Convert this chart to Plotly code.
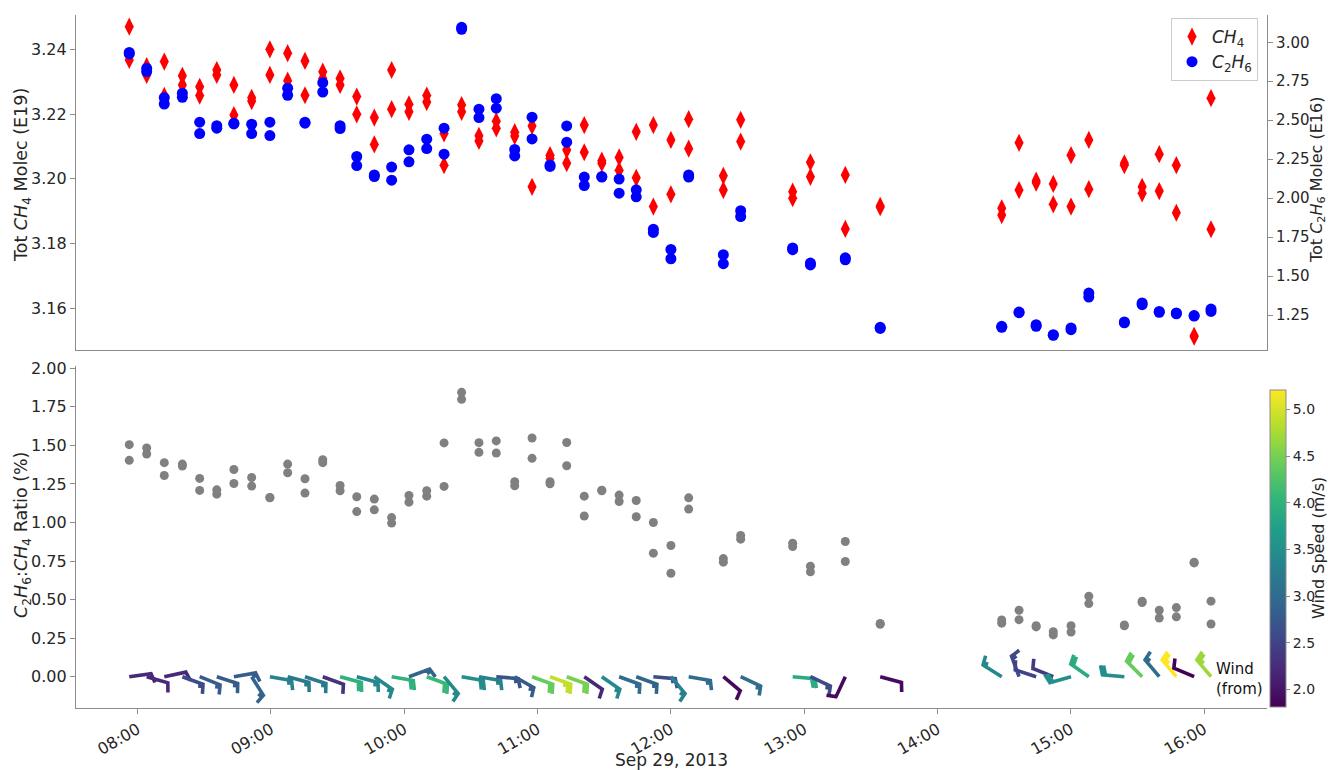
import math
import pandas as pd
import plotly.graph_objects as go
from plotly.colors import sample_colorscale

DATE = "2013-09-29"

# measurement group times (two retrievals per group)
times = ["07:56:12", "08:04:03", "08:11:58", "08:20:06", "08:27:54", "08:35:36", "08:43:18",
         "08:51:18", "08:59:30", "09:07:30", "09:15:18", "09:23:18", "09:31:06", "09:38:36",
         "09:46:30", "09:54:18", "10:02:06", "10:10:06", "10:17:54", "10:25:48", "10:33:36",
         "10:41:24", "10:49:42", "10:57:30", "11:05:36", "11:13:06", "11:21:00", "11:28:54",
         "11:36:42", "11:44:24", "11:52:06", "12:00:00", "12:08:00", "12:23:36", "12:31:24",
         "12:54:48", "13:02:48", "13:18:30", "13:34:12", "14:28:54", "14:36:42", "14:44:24",
         "14:52:06", "15:00:06", "15:08:06", "15:24:06", "15:32:06", "15:39:48", "15:47:30",
         "15:55:30", "16:03:06"]

ch4_a = [3.2470, 3.2348, 3.2362, 3.2318, 3.2284, 3.2336, 3.2290, 3.2250, 3.2400, 3.2388,
         3.2364, 3.2331, 3.2310, 3.2254, 3.2189, 3.2336, 3.2230, 3.2257, 3.2140, 3.2228,
         3.2133, 3.2178, 3.2144, 3.2163, 3.2073, 3.2089, 3.2166, 3.2056, 3.2066, 3.2145,
         3.2166, 3.2120, 3.2184, 3.2009, 3.2182, 3.1960, 3.2051, 3.2012, 3.1916, 3.1909,
         3.2111, 3.1994, 3.1984, 3.2073, 3.2120, 3.2048, 3.1975, 3.2076, 3.2042, 3.1515,
         3.2249]
ch4_b = [3.2367, 3.2321, 3.2256, 3.2290, 3.2257, 3.2321, 3.2197, 3.2240, 3.2321, 3.2303,
         3.2258, 3.2310, 3.2290, 3.2199, 3.2106, 3.2215, 3.2207, 3.2237, 3.2042, 3.2207,
         3.2117, 3.2156, 3.2132, 3.1975, 3.2063, 3.2048, 3.2082, 3.2048, 3.2026, 3.2003,
         3.1914, 3.1952, 3.2093, 3.1965, 3.2115, 3.1940, 3.2006, 3.1845, 3.1912, 3.1888,
         3.1965, 3.1988, 3.1921, 3.1914, 3.1968, 3.2042, 3.1955, 3.1962, 3.1895, 3.1512,
         3.1844]

c2h6_a = [2.935, 2.833, 2.645, 2.673, 2.487, 2.465, 2.481, 2.474, 2.487, 2.705,
          2.487, 2.741, 2.465, 2.267, 2.149, 2.199, 2.310, 2.378, 2.449, 3.096,
          2.571, 2.638, 2.312, 2.519, 2.212, 2.463, 2.135, 2.138, 2.122, 2.053,
          1.801, 1.671, 2.149, 1.637, 1.919, 1.680, 1.583, 1.617, 1.171, 1.177,
          1.269, 1.188, 1.124, 1.167, 1.391, 1.205, 1.327, 1.273, 1.263, 1.246,
          1.288]
c2h6_b = [2.925, 2.812, 2.604, 2.647, 2.414, 2.449, 2.476, 2.414, 2.401, 2.660,
          2.481, 2.681, 2.446, 2.209, 2.138, 2.115, 2.233, 2.318, 2.282, 3.083,
          2.517, 2.577, 2.271, 2.380, 2.203, 2.359, 2.081, 2.135, 2.032, 2.008,
          1.780, 1.611, 2.135, 1.579, 1.882, 1.669, 1.571, 1.604, 1.164, 1.171,
          1.265, 1.177, 1.120, 1.156, 1.365, 1.200, 1.316, 1.267, 1.258, 1.243,
          1.273]

ratio_a = [1.505, 1.483, 1.388, 1.379, 1.286, 1.212, 1.344, 1.292, 1.162, 1.379,
           1.284, 1.407, 1.240, 1.167, 1.152, 1.032, 1.175, 1.206, 1.516, 1.844,
           1.518, 1.529, 1.264, 1.548, 1.264, 1.519, 1.171, 1.210, 1.178, 1.143,
           1.000, 0.851, 1.160, 0.766, 0.916, 0.866, 0.717, 0.877, 0.345, 0.368,
           0.431, 0.331, 0.292, 0.331, 0.522, 0.335, 0.490, 0.431, 0.448, 0.742,
           0.490]
ratio_b = [1.403, 1.444, 1.305, 1.366, 1.208, 1.184, 1.253, 1.236, 1.160, 1.323,
           1.191, 1.388, 1.206, 1.071, 1.082, 0.996, 1.132, 1.171, 1.234, 1.799,
           1.455, 1.451, 1.238, 1.416, 1.251, 1.368, 1.042, 1.206, 1.136, 1.037,
           0.801, 0.671, 1.087, 0.743, 0.892, 0.844, 0.680, 0.747, 0.340, 0.347,
           0.370, 0.323, 0.271, 0.290, 0.474, 0.330, 0.481, 0.381, 0.388, 0.738,
           0.342]

# wind direction (deg, from) and speed (m/s) per group
wind_dir = [82, 106, 78, 110, 112, 108, 80, 148, 100, 105,
            108, 110, 105, 105, 125, 100, 70, 110, 140, 100,
            100, 95, 120, 110, 110, 110, 125, 125, 110, 110,
            95, 140, 100, 130, 115, 95, 115, 205, 105, 302,
            340, 288, 292, 254, 305, 275, 315, 320, 320, 293,
            320]
wind_speed = [2.2, 2.2, 2.2, 2.6, 2.8, 2.8, 2.8, 2.9, 3.3, 3.2,
              3.2, 2.3, 4.0, 3.4, 3.4, 4.0, 2.9, 4.1, 3.4, 3.5,
              3.3, 2.7, 2.8, 4.4, 4.9, 4.5, 2.2, 3.4, 3.0, 2.9,
              2.6, 3.3, 3.0, 1.9, 3.0, 3.9, 2.6, 1.9, 1.9, 3.4,
              2.6, 2.5, 2.4, 3.5, 3.9, 3.5, 4.4, 3.0, 5.21, 1.81,
              4.7]

x_ticks = ["08:00", "09:00", "10:00", "11:00", "12:00", "13:00", "14:00", "15:00", "16:00"]

t = pd.to_datetime([f"{DATE} {s}" for s in times])
X0 = pd.Timestamp(f"{DATE} 07:32:14")
X1 = pd.Timestamp(f"{DATE} 16:28:18")
Y3_RANGE = [-0.203, 2.015]

# plot geometry (pixels)
W, H = 1328, 770
ML, MR, MT, MB = 76, 61, 15, 62
PW = W - ML - MR
PH = H - MT - MB
top_dom = [(H - MB - 350) / PH, 1.0]
bot_dom = [0.0, (H - MB - 366) / PH]
BOT_H = (bot_dom[1] - bot_dom[0]) * PH

px_per_min = PW / ((X1 - X0).total_seconds() / 60.0)
px_per_unit = BOT_H / (Y3_RANGE[1] - Y3_RANGE[0])

FONT = "DejaVu Sans"
TXT = "#262626"
SPINE = "#8c8c8c"

fig = go.Figure()

fig.add_trace(go.Scatter(
    x=list(t) + list(t), y=ch4_a + ch4_b, mode="markers", name="<i>CH</i><sub>4</sub>",
    marker=dict(symbol="diamond-tall", size=13, color="#ff0000", line=dict(width=0)),
    xaxis="x", yaxis="y"))
fig.add_trace(go.Scatter(
    x=list(t) + list(t), y=c2h6_a + c2h6_b, mode="markers",
    name="<i>C</i><sub>2</sub><i>H</i><sub>6</sub>",
    marker=dict(symbol="circle", size=11, color="#0000ff", line=dict(width=0)),
    xaxis="x", yaxis="y2"))
fig.add_trace(go.Scatter(
    x=list(t) + list(t), y=ratio_a + ratio_b, mode="markers", showlegend=False,
    marker=dict(symbol="circle", size=9, color="#808080", line=dict(width=0)),
    xaxis="x2", yaxis="y3"))

# wind barbs (matplotlib-style geometry, computed in pixel space)
L = 22.0
HGT = 0.42 * L
WID = 0.25 * L
SPC = 0.14 * L
smin, smax = min(wind_speed), max(wind_speed)


def barb_path(speed, theta):
    mag = round(speed)
    nfull = int(mag // 2)
    half = (mag % 2) >= 1
    th = math.radians(theta)
    d = (math.sin(th), math.cos(th))
    p = (d[1], -d[0])
    pts = [(0.0, 0.0), (L * d[0], L * d[1])]
    off = L
    for _ in range(nfull):
        pts.append((off * d[0], off * d[1]))
        e = off + WID / 2
        pts.append((e * d[0] + HGT * p[0], e * d[1] + HGT * p[1]))
        pts.append((off * d[0], off * d[1]))
        off -= SPC
    if half:
        if nfull == 0:
            off -= 1.5 * SPC
        pts.append((off * d[0], off * d[1]))
        e = off + WID / 4
        pts.append((e * d[0] + HGT / 2 * p[0], e * d[1] + HGT / 2 * p[1]))
        pts.append((off * d[0], off * d[1]))
    return pts


for ti, sp, th in zip(t, wind_speed, wind_dir):
    pts = barb_path(sp, th)
    xs = [ti + pd.Timedelta(minutes=px / px_per_min) for px, py in pts]
    ys = [py / px_per_unit for px, py in pts]
    col = sample_colorscale("Viridis", [(sp - smin) / (smax - smin)])[0]
    fig.add_trace(go.Scatter(x=xs, y=ys, mode="lines", showlegend=False, hoverinfo="skip",
                             line=dict(color=col, width=3.6), xaxis="x2", yaxis="y3"))

fig.add_trace(go.Scatter(
    x=list(t), y=[0] * len(t), mode="markers", showlegend=False, hoverinfo="skip",
    marker=dict(size=1, opacity=0, color=wind_speed, colorscale="Viridis", cmin=smin, cmax=smax,
                showscale=True,
                colorbar=dict(x=(1270 - ML) / PW, xanchor="left", xpad=0, ypad=0, thickness=16,
                              len=(707 - 390) / PH, lenmode="fraction", y=(H - MB - 707) / PH,
                              yanchor="bottom", outlinecolor=SPINE, outlinewidth=1,
                              ticks="outside", ticklen=4, tickcolor=SPINE,
                              tickvals=[2.0, 2.5, 3.0, 3.5, 4.0, 4.5, 5.0], tickformat=".1f",
                              tickfont=dict(size=14, color=TXT, family=FONT))),
    xaxis="x2", yaxis="y3"))

tick_vals = [pd.Timestamp(f"{DATE} {s}") for s in x_ticks]

axis_common = dict(showgrid=False, zeroline=False, showline=True, linecolor=SPINE, linewidth=1.2,
                   ticks="outside", ticklen=5, tickcolor=SPINE, automargin=False,
                   tickfont=dict(size=16, color=TXT, family=FONT))


def px_x(px):
    return (px - ML) / PW


def px_y(py):
    return (H - MB - py) / PH


def vtitle(text, x, y, size):
    return dict(text=text, xref="paper", yref="paper", x=px_x(x), y=px_y(y),
                xanchor="center", yanchor="middle", textangle=-90, showarrow=False,
                font=dict(size=size, color=TXT, family=FONT))


right_ticks = dict(axis_common)
right_ticks["tickfont"] = dict(size=15, color=TXT, family=FONT)

fig.update_layout(
    width=W, height=H, margin=dict(l=ML, r=MR, t=MT, b=MB, autoexpand=False),
    paper_bgcolor="white", plot_bgcolor="white",
    font=dict(family=FONT, color=TXT, size=16),
    xaxis=dict(domain=[0, 1], anchor="y", range=[X0, X1], showgrid=False, zeroline=False,
               showline=True, linecolor=SPINE, linewidth=1.2, showticklabels=False, ticks=""),
    yaxis=dict(domain=top_dom, anchor="x", range=[3.1471, 3.2506], side="left",
               tickvals=[3.16, 3.18, 3.20, 3.22, 3.24], tickformat=".2f", **axis_common),
    yaxis2=dict(overlaying="y", anchor="x", side="right", range=[1.0254, 3.175],
                tickvals=[1.25, 1.5, 1.75, 2.0, 2.25, 2.5, 2.75, 3.0], tickformat=".2f",
                **right_ticks),
    xaxis2=dict(domain=[0, 1], anchor="y3", range=[X0, X1], tickvals=tick_vals,
                ticktext=x_ticks, tickangle=-30,
                title=dict(text="Sep 29, 2013", standoff=3, font=dict(size=17, color=TXT)),
                **axis_common),
    yaxis3=dict(domain=bot_dom, anchor="x2", range=Y3_RANGE,
                tickvals=[0, 0.25, 0.5, 0.75, 1.0, 1.25, 1.5, 1.75, 2.0], tickformat=".2f",
                **axis_common),
    legend=dict(x=px_x(1258), xanchor="right", y=px_y(18), yanchor="top",
                bgcolor="rgba(255,255,255,0.85)", bordercolor="#cccccc", borderwidth=1,
                font=dict(size=17, color=TXT, family=FONT)),
    annotations=[
        vtitle("Tot <i>CH</i><sub>4</sub> Molec (E19)", 22, 175, 17.5),
        vtitle("Tot <i>C</i><sub>2</sub><i>H</i><sub>6</sub> Molec (E16)", 1317, 180, 16),
        vtitle("<i>C</i><sub>2</sub><i>H</i><sub>6</sub>:<i>CH</i><sub>4</sub> Ratio (%)", 22, 535, 17.5),
        vtitle("Wind Speed (m/s)", 1318, 548, 16),
        dict(text="Wind<br>(from)", xref="paper", yref="paper",
             x=px_x(1214), y=px_y(679), xanchor="left", yanchor="middle",
             align="left", showarrow=False, font=dict(size=15, color="#111111", family=FONT)),
    ],
)

fig.write_html("out.html", config={"displayModeBar": False},
               post_script="document.body.style.margin='0';document.body.style.padding='0';")
